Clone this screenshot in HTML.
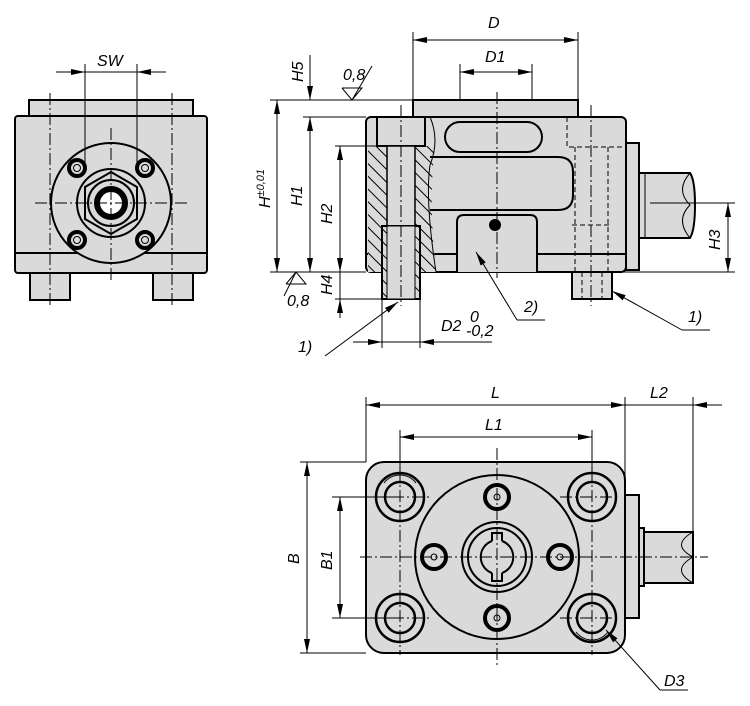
<!DOCTYPE html>
<html><head><meta charset="utf-8"><style>
html,body{margin:0;padding:0;background:#fff;width:750px;height:706px;overflow:hidden}
svg{display:block}
text{font-family:"Liberation Sans",sans-serif;font-style:italic;font-size:16px;fill:#000}
.o{stroke:#000;stroke-width:2;fill:#dadada}
.n{stroke:#000;stroke-width:2;fill:none}
.t{stroke:#000;stroke-width:1;fill:none}
.c{stroke:#000;stroke-width:1;fill:none;stroke-dasharray:12 3 2 3}
.h{stroke:#000;stroke-width:1;fill:none;stroke-dasharray:5 3}
</style></head><body>
<svg width="750" height="706" viewBox="0 0 750 706">
<defs>
<marker id="a" viewBox="0 0 14 6" refX="14" refY="3" markerWidth="14" markerHeight="6" markerUnits="userSpaceOnUse" orient="auto"><path d="M0,0L14,3L0,6z" fill="#000"/></marker>
<pattern id="hat" patternUnits="userSpaceOnUse" width="9" height="9" patternTransform="rotate(-45)"><rect width="9" height="9" fill="#dadada"/><line x1="0" y1="0" x2="0" y2="9" stroke="#000" stroke-width="2"/></pattern>
</defs>

<!-- LEFT VIEW -->
<rect class="o" x="29" y="100" width="164" height="16"/>
<rect class="o" x="15" y="116" width="192" height="157" rx="3"/>
<line class="n" x1="15" y1="253" x2="207" y2="253"/>
<rect class="o" x="30" y="273" width="40" height="27"/>
<rect class="o" x="153" y="273" width="40" height="27"/>
<circle class="o" cx="111" cy="203" r="60"/>
<g stroke="#000" stroke-width="4" fill="#dadada">
<circle cx="77" cy="168" r="8"/><circle cx="145" cy="168" r="8"/><circle cx="77" cy="240" r="8"/><circle cx="145" cy="240" r="8"/></g>
<g class="t"><circle cx="77" cy="168" r="3.5"/><circle cx="145" cy="168" r="3.5"/><circle cx="77" cy="240" r="3.5"/><circle cx="145" cy="240" r="3.5"/></g>
<circle class="n" cx="111" cy="203" r="34"/>
<polygon class="n" points="111,172 137,187 137,219 111,234 85,219 85,187"/>
<circle class="n" cx="111" cy="203" r="23"/>
<circle cx="111" cy="203" r="14" fill="#fff" stroke="#000" stroke-width="6"/>
<g class="c"><line x1="50" y1="93" x2="50" y2="308"/><line x1="172" y1="93" x2="172" y2="308"/><line x1="111" y1="128" x2="111" y2="280"/><line x1="35" y1="203" x2="188" y2="203"/></g>
<g class="t"><line x1="85" y1="64" x2="85" y2="168"/><line x1="137" y1="64" x2="137" y2="168"/>
<line x1="56" y1="72" x2="85" y2="72" marker-end="url(#a)"/><line x1="166" y1="72" x2="137" y2="72" marker-end="url(#a)"/><line x1="85" y1="72" x2="137" y2="72"/></g>
<text x="97" y="66">SW</text>

<!-- MIDDLE VIEW -->
<rect class="o" x="413" y="100" width="165" height="17"/>
<rect class="o" x="366" y="117" width="260" height="155" rx="5"/>
<line class="n" x1="366" y1="254" x2="626" y2="254"/>
<rect class="o" x="626" y="143" width="13" height="127"/>
<path class="o" d="M639,173H690Q695,180 695,205Q695,230 690,238H639z"/>
<path class="t" d="M645,173V238M690,173Q675,190 690,205Q675,220 690,238"/>
<path d="M368,146H435Q428,200 436,272H368z" fill="url(#hat)" stroke="none"/>
<path class="t" d="M430,117Q440,140 430,165Q425,200 436,272"/>
<rect class="o" x="377" y="117" width="48" height="29"/>
<rect x="387" y="146" width="28" height="80" fill="#dadada" stroke="#000" stroke-width="1.5"/>
<rect x="382" y="226" width="38" height="73" fill="url(#hat)" stroke="#000" stroke-width="2"/>
<rect x="387" y="226" width="28" height="73" fill="#dadada" stroke="#000" stroke-width="1"/>
<rect class="n" x="445" y="122" width="97" height="30" rx="15"/>
<path class="n" d="M430,157H558Q573,157 573,172V195Q573,210 558,210H430"/>
<path class="o" d="M457,272V222Q457,215 464,215H530Q537,215 537,222V272"/>
<circle cx="495" cy="225" r="6" fill="#000"/>
<g class="h"><path d="M567,117V147H623M575,147V272M608,147V272M572,225H612"/></g>
<rect class="o" x="572" y="272" width="40" height="27"/>
<g class="h"><line x1="582" y1="272" x2="582" y2="299"/><line x1="602" y1="272" x2="602" y2="299"/></g>
<g class="c"><line x1="497" y1="92" x2="497" y2="278"/><line x1="401" y1="105" x2="401" y2="306"/><line x1="591" y1="105" x2="591" y2="306"/><line x1="650" y1="203" x2="700" y2="203"/></g>
<g class="t">
<line x1="413" y1="32" x2="413" y2="100"/><line x1="578" y1="32" x2="578" y2="100"/>
<line x1="495" y1="40" x2="413" y2="40" marker-end="url(#a)"/><line x1="495" y1="40" x2="578" y2="40" marker-end="url(#a)"/>
<line x1="460" y1="64" x2="460" y2="100"/><line x1="532" y1="64" x2="532" y2="100"/>
<line x1="496" y1="72" x2="460" y2="72" marker-end="url(#a)"/><line x1="496" y1="72" x2="532" y2="72" marker-end="url(#a)"/>
<line x1="270" y1="100" x2="413" y2="100"/><line x1="303" y1="117" x2="366" y2="117"/>
<line x1="335" y1="146" x2="380" y2="146"/><line x1="270" y1="272" x2="366" y2="272"/><line x1="612" y1="272" x2="735" y2="272"/>
<line x1="335" y1="299" x2="382" y2="299"/><line x1="650" y1="203" x2="735" y2="203"/>
<line x1="277" y1="186" x2="277" y2="100" marker-end="url(#a)"/><line x1="277" y1="186" x2="277" y2="272" marker-end="url(#a)"/>
<line x1="310" y1="190" x2="310" y2="117" marker-end="url(#a)"/><line x1="310" y1="190" x2="310" y2="272" marker-end="url(#a)"/>
<line x1="310" y1="55" x2="310" y2="100" marker-end="url(#a)"/>
<line x1="340" y1="210" x2="340" y2="146" marker-end="url(#a)"/><line x1="340" y1="210" x2="340" y2="272" marker-end="url(#a)"/>
<line x1="340" y1="272" x2="340" y2="299"/><line x1="340" y1="318" x2="340" y2="299" marker-end="url(#a)"/>
<line x1="728" y1="237" x2="728" y2="203" marker-end="url(#a)"/><line x1="728" y1="237" x2="728" y2="272" marker-end="url(#a)"/>
<line x1="382" y1="299" x2="382" y2="348"/><line x1="420" y1="299" x2="420" y2="348"/>
<line x1="353" y1="342" x2="382" y2="342" marker-end="url(#a)"/><line x1="492" y1="342" x2="420" y2="342" marker-end="url(#a)"/><line x1="382" y1="342" x2="420" y2="342"/>
<line x1="325" y1="356" x2="398" y2="302" marker-end="url(#a)"/>
<line x1="517" y1="320" x2="476" y2="252" marker-end="url(#a)"/><line x1="517" y1="320" x2="545" y2="320"/>
<line x1="682" y1="330" x2="612" y2="291" marker-end="url(#a)"/><line x1="682" y1="330" x2="710" y2="330"/>
<path d="M342,88L352,100L362,88H342M352,100L372,66"/>
<path d="M286,284L296,272L306,284H286M296,272L284,296"/>
</g>
<text x="343" y="80" font-size="14">0,8</text>
<text x="287" y="306" font-size="14">0,8</text>
<text x="488" y="28">D</text>
<text x="485" y="62">D1</text>
<text transform="translate(303,82) rotate(-90)">H5</text>
<text transform="translate(302,206) rotate(-90)">H1</text>
<text transform="translate(332,224) rotate(-90)">H2</text>
<text transform="translate(332,295) rotate(-90)">H4</text>
<text transform="translate(720,250) rotate(-90)">H3</text>
<text transform="translate(270,208) rotate(-90)">H<tspan font-size="11" dy="-6">±0,01</tspan></text>
<text x="441" y="331">D2</text>
<text x="470" y="322" font-size="11">0</text>
<text x="466" y="336" font-size="11">-0,2</text>
<text x="298" y="352">1)</text>
<text x="524" y="312">2)</text>
<text x="688" y="322">1)</text>

<!-- BOTTOM VIEW -->
<rect class="o" x="625" y="495" width="14" height="123"/>
<rect class="o" x="639" y="528" width="5" height="58"/>
<path class="o" d="M644,532H693V583H644z"/>
<path class="t" d="M693,532Q670,545 693,557Q670,570 693,583"/>
<rect class="o" x="366" y="462" width="259" height="191" rx="18"/>
<circle class="o" cx="497" cy="557" r="82"/>
<g stroke="#000" stroke-width="2.5" fill="#dadada">
<circle cx="400" cy="497" r="24"/><circle cx="592" cy="497" r="24"/><circle cx="400" cy="618" r="24"/><circle cx="592" cy="618" r="24"/></g>
<g stroke="#000" stroke-width="2.5" fill="#dadada">
<circle cx="400" cy="497" r="15"/><circle cx="592" cy="497" r="15"/><circle cx="400" cy="618" r="15"/><circle cx="592" cy="618" r="15"/></g>
<g class="t"><path d="M384,483A20,20 0 0 1 416,483"/><path d="M576,632A20,20 0 0 0 608,632"/></g>
<g stroke="#000" stroke-width="4" fill="#dadada">
<circle cx="497" cy="497" r="12"/><circle cx="497" cy="618" r="12"/><circle cx="434" cy="557" r="12"/><circle cx="560" cy="557" r="12"/></g>
<g class="t"><circle cx="497" cy="497" r="3"/><circle cx="497" cy="618" r="3"/><circle cx="434" cy="557" r="3"/><circle cx="560" cy="557" r="3"/></g>
<circle class="n" cx="497" cy="557" r="35"/>
<circle class="n" cx="497" cy="557" r="29"/>
<path class="n" d="M492,541A17,17 0 0 0 492,573M502,541A17,17 0 0 1 502,573M492,541V533H502V541M492,573V581H502V573"/>
<g class="c"><line x1="497" y1="448" x2="497" y2="668"/><line x1="360" y1="557" x2="708" y2="557"/>
<line x1="400" y1="470" x2="400" y2="655"/><line x1="592" y1="470" x2="592" y2="655"/>
<line x1="372" y1="497" x2="432" y2="497"/><line x1="560" y1="497" x2="620" y2="497"/><line x1="372" y1="618" x2="432" y2="618"/><line x1="560" y1="618" x2="620" y2="618"/></g>
<g class="t">
<line x1="366" y1="397" x2="366" y2="462"/><line x1="625" y1="397" x2="625" y2="495"/><line x1="693" y1="397" x2="693" y2="532"/>
<line x1="495" y1="405" x2="366" y2="405" marker-end="url(#a)"/><line x1="495" y1="405" x2="625" y2="405" marker-end="url(#a)"/>
<line x1="625" y1="405" x2="693" y2="405"/><line x1="722" y1="405" x2="693" y2="405" marker-end="url(#a)"/>
<line x1="400" y1="430" x2="400" y2="470"/><line x1="592" y1="430" x2="592" y2="470"/>
<line x1="496" y1="437" x2="400" y2="437" marker-end="url(#a)"/><line x1="496" y1="437" x2="592" y2="437" marker-end="url(#a)"/>
<line x1="300" y1="462" x2="366" y2="462"/><line x1="300" y1="653" x2="366" y2="653"/>
<line x1="332" y1="497" x2="400" y2="497"/><line x1="332" y1="618" x2="400" y2="618"/>
<line x1="307" y1="557" x2="307" y2="462" marker-end="url(#a)"/><line x1="307" y1="557" x2="307" y2="653" marker-end="url(#a)"/>
<line x1="340" y1="557" x2="340" y2="497" marker-end="url(#a)"/><line x1="340" y1="557" x2="340" y2="618" marker-end="url(#a)"/>
<line x1="660" y1="690" x2="606" y2="630" marker-end="url(#a)"/><line x1="660" y1="690" x2="688" y2="690"/>
</g>
<text x="491" y="398">L</text>
<text x="485" y="430">L1</text>
<text x="650" y="398">L2</text>
<text transform="translate(299,564) rotate(-90)">B</text>
<text transform="translate(332,570) rotate(-90)">B1</text>
<text x="664" y="686">D3</text>
</svg>
</body></html>
